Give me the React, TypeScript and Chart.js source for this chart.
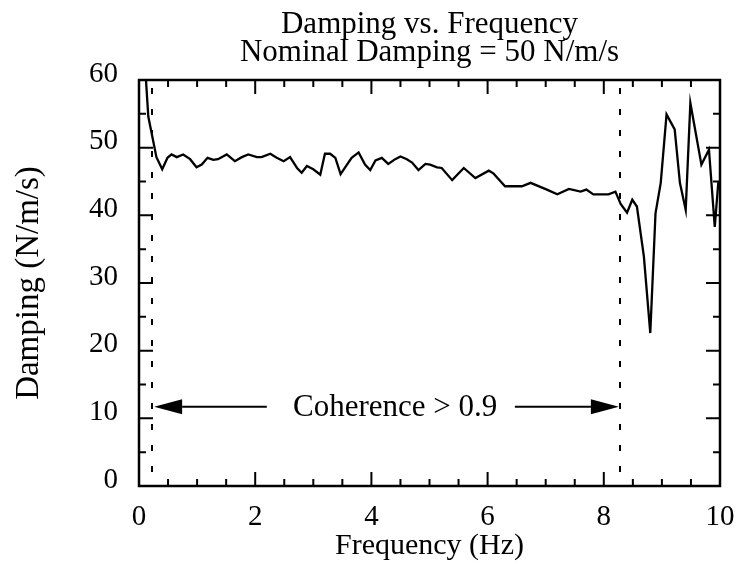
import React, { useEffect, useRef } from "react";
import { Chart, registerables } from "chart.js";

Chart.register(...registerables);

// ---- data ----
const FREQ_HZ = [
  0.12, 0.16, 0.3, 0.4, 0.49, 0.56, 0.65, 0.76, 0.88, 0.99, 1.08, 1.18, 1.28, 1.36,
  1.51, 1.65, 1.77, 1.88, 2.03, 2.11, 2.26, 2.37, 2.49, 2.6, 2.72, 2.8, 2.89, 3.0,
  3.12, 3.2, 3.29, 3.38, 3.47, 3.58, 3.66, 3.78, 3.89, 3.98, 4.07, 4.18, 4.29, 4.41,
  4.5, 4.61, 4.7, 4.81, 4.93, 5.01, 5.13, 5.21, 5.39, 5.59, 5.79, 6.02, 6.1, 6.3,
  6.59, 6.74, 7.02, 7.2, 7.4, 7.6, 7.7, 7.82, 8.08, 8.2, 8.29, 8.4, 8.49, 8.57,
  8.69, 8.8, 8.89, 8.98, 9.08, 9.22, 9.31, 9.41, 9.49, 9.68, 9.81, 9.91, 9.97, 10.0,
];
const DAMPING = [
  60, 54.6, 48.6, 46.8, 48.5, 49.0, 48.6, 49.0, 48.3, 47.1, 47.5, 48.5, 48.2, 48.3,
  49.0, 48.0, 48.6, 49.0, 48.6, 48.6, 49.1, 48.5, 48.0, 48.6, 47.0, 46.3, 47.3, 46.8,
  46.0, 49.1, 49.1, 48.5, 46.1, 47.5, 48.5, 49.3, 47.5, 46.7, 48.1, 48.5, 47.6, 48.3,
  48.7, 48.3, 47.8, 46.7, 47.6, 47.5, 47.1, 47.0, 45.2, 47.0, 45.5, 46.6, 46.2, 44.3,
  44.3, 44.8, 43.8, 43.1, 43.9, 43.5, 43.8, 43.1, 43.1, 43.5, 41.7, 40.4, 42.3, 41.3,
  33.9, 22.6, 40.3, 44.8, 54.9, 52.7, 44.8, 40.8, 56.6, 47.5, 49.7, 38.3, 44.8, 44.6,
];

const TITLE_LINES = ["Damping vs. Frequency", "Nominal Damping = 50 N/m/s"];
const X_LABEL = "Frequency (Hz)";
const Y_LABEL = "Damping (N/m/s)";
const X_RANGE = [0, 10];
const Y_RANGE = [0, 60];
const X_MAJOR = 2;
const X_MINOR = 0.5;
const Y_MAJOR = 10;
const Y_MINOR = 5;
const COHERENCE_LIMITS = [0.22, 8.28];
const ANNOTATION_TEXT = "Coherence > 0.9";
const ANNOTATION_Y = 11.7;
const ANNOTATION_X = 4.41;
const LEFT_ARROW = [2.2, 0.26]; // from, tip
const RIGHT_ARROW = [6.47, 8.26]; // from, tip

const FONT = "'Liberation Serif', 'Times New Roman', serif";

const overlayPlugin = {
  id: "overlay",
  afterDatasetsDraw(chart: any) {
    const { ctx, chartArea, scales } = chart;
    const { left, right, top, bottom } = chartArea;
    const xs = scales.x;
    const ys = scales.y;
    ctx.save();
    ctx.strokeStyle = "#000";
    ctx.fillStyle = "#000";

    // title (centred over the plot area)
    ctx.font = `31px ${FONT}`;
    ctx.textAlign = "center";
    ctx.textBaseline = "alphabetic";
    const cx = (left + right) / 2;
    ctx.fillText(TITLE_LINES[0], cx, 33);
    ctx.fillText(TITLE_LINES[1], cx, 61);

    // dashed coherence limits
    ctx.lineWidth = 2;
    ctx.setLineDash([6, 15]);
    for (const v of COHERENCE_LIMITS) {
      const px = Math.round(xs.getPixelForValue(v));
      ctx.beginPath();
      ctx.moveTo(px, top + 8);
      ctx.lineTo(px, bottom);
      ctx.stroke();
    }
    ctx.setLineDash([]);

    // arrows
    const ay = ys.getPixelForValue(ANNOTATION_Y);
    const drawArrow = (from: number, tip: number) => {
      const fx = xs.getPixelForValue(from);
      const tx = xs.getPixelForValue(tip);
      const dir = Math.sign(tx - fx);
      const headLen = 28;
      const headHalf = 7.5;
      ctx.lineWidth = 2;
      ctx.beginPath();
      ctx.moveTo(fx, ay);
      ctx.lineTo(tx - dir * headLen, ay);
      ctx.stroke();
      ctx.beginPath();
      ctx.moveTo(tx, ay);
      ctx.lineTo(tx - dir * headLen, ay - headHalf);
      ctx.lineTo(tx - dir * headLen, ay + headHalf);
      ctx.closePath();
      ctx.fill();
    };
    drawArrow(LEFT_ARROW[0], LEFT_ARROW[1]);
    drawArrow(RIGHT_ARROW[0], RIGHT_ARROW[1]);
    ctx.font = `31px ${FONT}`;
    ctx.textAlign = "center";
    ctx.textBaseline = "middle";
    ctx.fillText(ANNOTATION_TEXT, xs.getPixelForValue(ANNOTATION_X), ay + 1);

    // inward ticks on all four sides
    ctx.lineWidth = 2;
    const majorLen = 14;
    const minorLen = 7;
    const nx = Math.round((X_RANGE[1] - X_RANGE[0]) / X_MINOR);
    for (let i = 0; i <= nx; i++) {
      const v = X_RANGE[0] + i * X_MINOR;
      const isMajor = Math.abs(v / X_MAJOR - Math.round(v / X_MAJOR)) < 1e-6;
      const len = isMajor ? majorLen : minorLen;
      const px = xs.getPixelForValue(v);
      ctx.beginPath();
      ctx.moveTo(px, bottom);
      ctx.lineTo(px, bottom - len);
      ctx.moveTo(px, top);
      ctx.lineTo(px, top + len);
      ctx.stroke();
    }
    const ny = Math.round((Y_RANGE[1] - Y_RANGE[0]) / Y_MINOR);
    for (let i = 0; i <= ny; i++) {
      const v = Y_RANGE[0] + i * Y_MINOR;
      const isMajor = Math.abs(v / Y_MAJOR - Math.round(v / Y_MAJOR)) < 1e-6;
      const len = isMajor ? majorLen : minorLen;
      const py = ys.getPixelForValue(v);
      ctx.beginPath();
      ctx.moveTo(left, py);
      ctx.lineTo(left + len, py);
      ctx.moveTo(right, py);
      ctx.lineTo(right - len, py);
      ctx.stroke();
    }

    // frame
    ctx.lineWidth = 2.5;
    ctx.strokeRect(left, top, right - left, bottom - top);
    ctx.restore();
  },
};

export default function App() {
  const canvasRef = useRef<HTMLCanvasElement | null>(null);

  useEffect(() => {
    document.body.style.margin = "0";
    const canvas = canvasRef.current;
    if (!canvas) return;
    const points = FREQ_HZ.map((f, i) => ({ x: f, y: DAMPING[i] }));
    const chart = new Chart(canvas, {
      type: "scatter",
      data: {
        datasets: [
          {
            data: points,
            showLine: true,
            borderColor: "#000",
            borderWidth: 2.3,
            pointRadius: 0,
            tension: 0,
          },
        ],
      },
      options: {
        animation: false,
        responsive: true,
        maintainAspectRatio: false,
        layout: { padding: { top: 80, right: 19, bottom: 0, left: 0 } },
        plugins: {
          legend: { display: false },
          tooltip: { enabled: false },
          title: { display: false },
        },
        scales: {
          x: {
            type: "linear",
            min: X_RANGE[0],
            max: X_RANGE[1],
            grid: { display: false, drawTicks: false },
            border: { display: false },
            afterFit: (s: any) => {
              s.height = 79;
              s.paddingLeft = 0;
              s.paddingRight = 0;
            },
            ticks: {
              stepSize: X_MAJOR,
              color: "#000",
              padding: 14,
              font: { family: FONT, size: 29 },
            },
            title: {
              display: true,
              text: X_LABEL,
              color: "#000",
              font: { family: FONT, size: 30 },
              padding: { top: 0, bottom: 1 },
            },
          },
          y: {
            type: "linear",
            min: Y_RANGE[0],
            max: Y_RANGE[1],
            grid: { display: false, drawTicks: false },
            border: { display: false },
            afterFit: (s: any) => {
              s.width = 139;
              s.paddingTop = 0;
              s.paddingBottom = 0;
            },
            ticks: {
              stepSize: Y_MAJOR,
              color: "#000",
              padding: 21,
              labelOffset: -6,
              font: { family: FONT, size: 29 },
            },
            title: {
              display: true,
              text: Y_LABEL,
              color: "#000",
              font: { family: FONT, size: 33 },
              padding: { top: 10, bottom: 0 },
            },
          },
        },
      },
      plugins: [overlayPlugin],
    });
    return () => chart.destroy();
  }, []);

  return (
    <div style={{ width: 739, height: 565, position: "relative" }}>
      <canvas ref={canvasRef} />
    </div>
  );
}
